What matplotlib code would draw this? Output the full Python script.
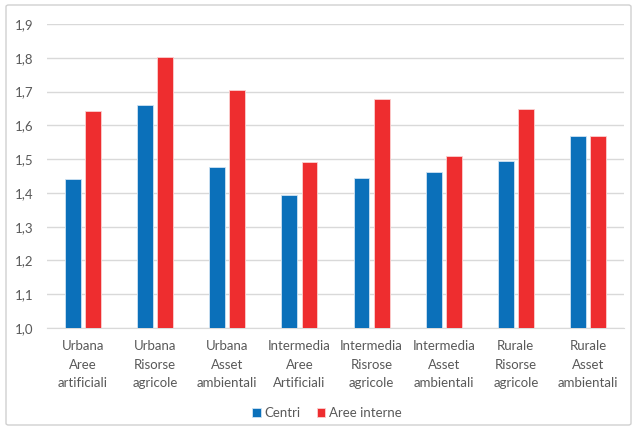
import matplotlib.pyplot as plt
from matplotlib.patches import FancyBboxPatch
import numpy as np

# data
categories = ['Urbana\nAree\nartificiali', 'Urbana\nRisorse\nagricole', 'Urbana\nAsset\nambientali',
              'Intermedia\nAree\nArtificiali', 'Intermedia\nRisrose\nagricole', 'Intermedia\nAsset\nambientali',
              'Rurale\nRisorse\nagricole', 'Rurale\nAsset\nambientali']
centri = [1.442, 1.660, 1.477, 1.395, 1.444, 1.461, 1.494, 1.569]
aree_interne = [1.642, 1.801, 1.706, 1.490, 1.678, 1.510, 1.649, 1.569]
yticks = [1.0, 1.1, 1.2, 1.3, 1.4, 1.5, 1.6, 1.7, 1.8, 1.9]

blue = '#0B70BA'
red = '#EE2D2F'
plt.rcParams['font.family'] = ['Lato', 'DejaVu Sans']

fig = plt.figure(figsize=(6.34, 4.30), dpi=100)
# chart border
fig.patches.append(FancyBboxPatch((6 / 634, 5 / 430), 625 / 634, 420 / 430,
                                  boxstyle='round,pad=0,rounding_size=0.004',
                                  transform=fig.transFigure, facecolor='none',
                                  edgecolor='#d0d0d0', linewidth=1, zorder=-1))
ax = fig.add_axes([47 / 634, 102 / 430, 577 / 634, 304 / 430])

x = np.arange(len(categories))
w = 0.22
ax.bar(x - 0.14, [v - 1.0 for v in centri], w, bottom=1.0, color=blue,
       edgecolor='#cfe3f3', linewidth=0.6, label='Centri', zorder=3)
ax.bar(x + 0.14, [v - 1.0 for v in aree_interne], w, bottom=1.0, color=red,
       edgecolor='#fbd0d0', linewidth=0.6, label='Aree interne', zorder=3)

ax.set_xlim(-0.5, len(categories) - 0.5)
ax.set_ylim(1.0, 1.9)
ax.set_yticks(yticks)
ax.set_yticklabels([f'{t:.1f}'.replace('.', ',') for t in yticks])
ax.set_xticks(x)
ax.set_xticklabels(categories, linespacing=1.62)
ax.yaxis.grid(True, color='#d9d9d9', linewidth=1, zorder=0)
ax.tick_params(axis='both', length=0, labelsize=9.5, colors='#595959')
ax.tick_params(axis='x', pad=9)
ax.tick_params(axis='y', pad=9.5)
for s in ['top', 'right', 'left']:
    ax.spines[s].set_visible(False)
ax.spines['bottom'].set_color('#d9d9d9')
ax.set_facecolor('none')

fig.legend(loc='center', bbox_to_anchor=(327 / 634, 17 / 430), ncol=2, frameon=False,
           fontsize=9.5, handlelength=0.65, handleheight=0.65, handletextpad=0.3,
           columnspacing=1.2, labelcolor='#595959')

fig.savefig('out.png', dpi=100)
